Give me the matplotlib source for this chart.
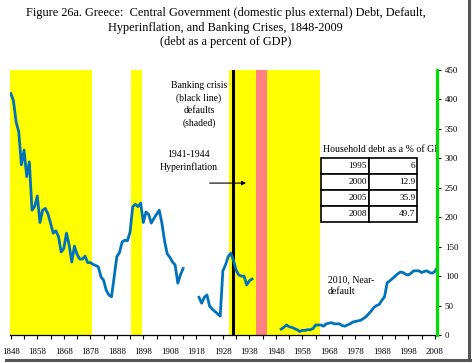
import matplotlib
matplotlib.use("Agg")
import matplotlib.pyplot as plt
import numpy as np
from matplotlib.lines import Line2D

plt.rcParams['font.family'] = ['Liberation Serif', 'DejaVu Serif']

# central government debt, % of GDP (gaps = no data)
debt_start_a = 1848
debt_a = [410, 398, 362, 345, 289, 314, 269, 294, 212, 218,
          236, 191, 212, 215, 206, 190, 173, 177, 167, 141,
          147, 173, 153, 124, 151, 137, 129, 129, 134, 123,
          123, 120, 118, 116, 99, 93, 76, 68, 65, 99,
          133, 140, 158, 161, 160, 175, 218, 222, 218, 224,
          191, 209, 205, 190, 198, 205, 212, 190, 160, 138,
          132, 124, 119, 88, 102, 113]
debt_start_b = 1919
debt_b = [64, 54, 64, 68, 49, 44, 40, 36, 32, 109,
          119, 133, 139, 127, 110, 102, 100, 100, 85, 92, 95]
debt_start_c = 1950
debt_c = [10, 13, 17, 14, 13, 11, 9, 6, 8, 8,
          9, 9, 11, 17, 17, 17, 15, 19, 20, 21,
          19, 19, 19, 16, 15, 17, 19, 22, 23, 24,
          25, 28, 31, 36, 41, 47, 50, 52, 59, 65,
          89, 92, 96, 100, 104, 107, 106, 103, 102, 105,
          109, 109, 109, 106, 108, 109, 106, 105, 108, 115]

default_periods = [(1848, 1878), (1894, 1897), (1931, 1964)]
hyperinflation = (1941, 1944)
banking_crisis = 1932

hh_years = ['1995', '2000', '2005', '2008']
hh_debt = ['6', '12.9', '35.9', '49.7']

years, debt = [], []
for start, vals in [(debt_start_a, debt_a), (debt_start_b, debt_b), (debt_start_c, debt_c)]:
    years += list(range(start, start + len(vals))) + [start + len(vals)]
    debt += vals + [np.nan]
years = np.array(years, dtype=float)
debt = np.array(debt, dtype=float)

fig = plt.figure(figsize=(4.72, 3.63), dpi=100)
ax = fig.add_axes([0.0212, 0.0771, 0.9036, 0.7300])

for a, b in default_periods:
    ax.axvspan(a - 0.5, b + 0.5, color='#FFFF00', lw=0, zorder=0)
ax.axvspan(hyperinflation[0] - 0.5, hyperinflation[1] + 0.5, color='#FF8080', lw=0, zorder=0.5)
ax.axvline(banking_crisis, color='black', lw=2.2, zorder=1)

ax.plot(years, debt, color='#0072BC', lw=2.0, zorder=3, solid_joinstyle='round')

ax.set_xlim(1847.7, 2008.6)
ax.set_ylim(0, 450)

ax.yaxis.tick_right()
ax.set_yticks(np.arange(0, 451, 50))
ax.set_xticks(np.arange(1848, 2009, 10))
ax.set_xticks(np.arange(1853, 2009, 10), minor=True)
ax.tick_params(axis='x', which='both', direction='out', length=3, width=0.8, labelsize=6.3, pad=6)
ax.tick_params(axis='y', direction='out', length=3, width=0.8, labelsize=6.3, pad=3)
ax.tick_params(axis='y', which='minor', right=False)

ax.spines['left'].set_visible(False)
ax.spines['top'].set_visible(False)
ax.spines['bottom'].set_linewidth(0.9)
ax.spines['right'].set_color('#00E000')
ax.spines['right'].set_linewidth(2.3)
ax.spines['right'].set_zorder(6)

fig.text(0.478, 0.924, "Figure 26a. Greece:  Central Government (domestic plus external) Debt, Default,\n"
         "Hyperinflation, and Banking Crises, 1848-2009\n(debt as a percent of GDP)",
         ha='center', va='center', fontsize=8.8, linespacing=1.25)

ax.text(1919.0, 392, "Banking crisis\n(black line)\ndefaults\n(shaded)",
        ha='center', va='center', fontsize=7, linespacing=1.45)
ax.text(1915.0, 295, "1941-1944\nHyperinflation", ha='center', va='center',
        fontsize=7, linespacing=1.45)
ax.annotate('', xy=(1937.8, 258), xytext=(1922.0, 258),
            arrowprops=dict(arrowstyle='-|>', color='black', lw=0.8, mutation_scale=6))
ax.text(1967.7, 84, "2010, Near-\ndefault", ha='left', va='center', fontsize=7, linespacing=1.45)

# household debt table
ax.text(0.733, 0.682, "Household debt as a % of GDP", transform=ax.transAxes,
        ha='left', va='bottom', fontsize=7.1, zorder=2, clip_on=True)
tab = ax.table(cellText=[[y, v] for y, v in zip(hh_years, hh_debt)],
               cellLoc='right', bbox=[0.7285, 0.4275, 0.2265, 0.2393], zorder=4)
tab.auto_set_font_size(False)
tab.set_fontsize(6.7)
for cell in tab.get_celld().values():
    cell.set_linewidth(1.2)
    cell.set_facecolor('white')
    cell.PAD = 0.04

# drop shadow around the picture
fig.add_artist(Line2D([469 / 472, 469 / 472], [3 / 363, 1.0], color='#555555', lw=2.2))
fig.add_artist(Line2D([6 / 472, 470 / 472], [3 / 363, 3 / 363], color='#555555', lw=2.2))

fig.savefig('out.png', dpi=100)
